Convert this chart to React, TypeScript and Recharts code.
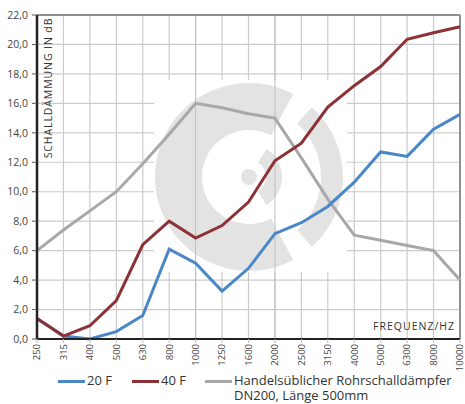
import React from "react"
import {
  LineChart,
  Line,
  XAxis,
  YAxis,
  CartesianGrid,
  Legend,
  ReferenceLine,
  Customized,
} from "recharts"

const categories = [
  "250", "315", "400", "500", "630", "800", "1000", "1250", "1600",
  "2000", "2500", "3150", "4000", "5000", "6300", "8000", "10000",
]

const series20F = [1.4, 0.2, 0.0, 0.5, 1.6, 6.1, 5.15, 3.25, 4.8, 7.15, 7.9, 9.0, 10.65, 12.7, 12.4, 14.25, 15.25]
const series40F = [1.4, 0.2, 0.9, 2.6, 6.4, 8.0, 6.85, 7.7, 9.3, 12.1, 13.3, 15.75, 17.2, 18.5, 20.35, 20.8, 21.2]
const seriesHandel = [6.0, 7.4, 8.7, 10.0, 11.9, 13.9, 16.0, 15.7, 15.3, 15.0, 12.3, 9.5, 7.05, 6.7, 6.35, 6.0, 4.0]

const yTicks = [0, 2, 4, 6, 8, 10, 12, 14, 16, 18, 20, 22]

const seriesNames = ["20 F", "40 F", "Handelsüblicher Rohrschalldämpfer DN200, Länge 500mm"]
const seriesColors = ["#4a87c6", "#8c3236", "#a8a8a8"]

const data = categories.map((f, i) => ({
  freq: f,
  f20: series20F[i],
  f40: series40F[i],
  handel: seriesHandel[i],
}))

const FONT = "'Open Sans', sans-serif"

const XTick = (props: any) => {
  const { x, y, payload } = props
  return (
    <text
      x={x}
      y={y}
      transform={`rotate(-90 ${x} ${y})`}
      textAnchor="end"
      dy="0.35em"
      fontSize={9.5}
      fontFamily={FONT}
      fill="#444"
    >
      {payload.value}
    </text>
  )
}

// annulus segment, angles in degrees (0 = right, counterclockwise)
function sector(cx: number, cy: number, r0: number, r1: number, a0: number, a1: number) {
  const rad = (a: number) => (a * Math.PI) / 180
  const p = (r: number, a: number) => [cx + r * Math.cos(rad(a)), cy - r * Math.sin(rad(a))]
  const large = a1 - a0 > 180 ? 1 : 0
  const [x1, y1] = p(r1, a0)
  const [x2, y2] = p(r1, a1)
  const [x3, y3] = p(r0, a1)
  const [x4, y4] = p(r0, a0)
  return `M${x1},${y1} A${r1},${r1} 0 ${large} 0 ${x2},${y2} L${x3},${y3} A${r0},${r0} 0 ${large} 1 ${x4},${y4} Z`
}

const Watermark = () => {
  const cx = 249
  const cy = 177
  const c = "#e3e3e4"
  return (
    <g>
      <rect x={154} y={80} width={193} height={192} fill="#fff" />
      <path d={sector(cx, cy, 47, 94, 62, 298)} fill={c} />
      <path d={sector(cx, cy, 72, 94, -48, 48)} fill={c} />
      <path d={sector(cx, cy, 17, 33, -58, 58)} fill={c} />
      <circle cx={cx} cy={cy} r={8} fill={c} />
      <text
        x={48}
        y={88}
        transform="rotate(-90 48 88)"
        textAnchor="middle"
        dy="0.35em"
        fontSize={10.5}
        fontFamily={FONT}
        letterSpacing={0.9}
        fill="#333"
      >
        SCHALLDÄMMUNG IN dB
      </text>
      <text
        x={455}
        y={330}
        textAnchor="end"
        fontSize={10.5}
        fontFamily={FONT}
        letterSpacing={1}
        fill="#333"
      >
        FREQUENZ/HZ
      </text>
    </g>
  )
}

const legendLeft = [58, 132, 205]

const renderLegend = () => (
  <div
    style={{
      position: "relative",
      width: 460,
      height: 37,
      fontFamily: FONT,
      fontSize: 13,
      color: "#333",
      lineHeight: "15px",
    }}
  >
    {seriesNames.map((name, i) => (
      <div key={name} style={{ position: "absolute", left: legendLeft[i], top: 6 }}>
        <div
          style={{
            position: "absolute",
            left: 0,
            top: 7,
            width: 27,
            height: 3,
            background: seriesColors[i],
          }}
        />
        <div style={{ position: "absolute", left: 29, top: 0, width: i === 2 ? 230 : 40 }}>{name}</div>
      </div>
    ))}
  </div>
)

export default function App() {
  return (
    <div style={{ position: "absolute", left: 0, top: 0, width: 465, height: 404, background: "#fff" }}>
      <LineChart width={465} height={404} data={data} margin={{ top: 15, right: 5, left: 0, bottom: 0 }}>
        <CartesianGrid stroke="#cbcbcb" strokeWidth={1.2} />
        <Customized component={Watermark} />
        <ReferenceLine x="1000" stroke="#bdbdbd" strokeWidth={1} />
        <ReferenceLine x="2000" stroke="#bdbdbd" strokeWidth={1} />
        <ReferenceLine y={22} stroke="#8f8f8f" strokeWidth={2} />
        <ReferenceLine x="10000" stroke="#8f8f8f" strokeWidth={2} />
        <XAxis
          dataKey="freq"
          height={28}
          interval={0}
          tick={<XTick />}
          tickSize={4}
          tickMargin={1}
          tickLine={{ stroke: "#bbb" }}
          axisLine={{ stroke: "#222", strokeWidth: 2 }}
        />
        <YAxis
          width={37}
          domain={[0, 22]}
          ticks={yTicks}
          interval={0}
          tickSize={5}
          tickMargin={4}
          tickFormatter={(v: number) => v.toFixed(1).replace(".", ",")}
          tick={{ fontSize: 10.5, fill: "#444", fontFamily: FONT }}
          tickLine={{ stroke: "#555" }}
          axisLine={{ stroke: "#222", strokeWidth: 2.5 }}
        />
        <Line dataKey="handel" name={seriesNames[2]} stroke={seriesColors[2]} strokeWidth={3} dot={false} isAnimationActive={false} />
        <Line dataKey="f20" name={seriesNames[0]} stroke={seriesColors[0]} strokeWidth={3} dot={false} isAnimationActive={false} />
        <Line dataKey="f40" name={seriesNames[1]} stroke={seriesColors[1]} strokeWidth={3} dot={false} isAnimationActive={false} />
        <Legend content={renderLegend} height={37} verticalAlign="bottom" />
      </LineChart>
    </div>
  )
}
